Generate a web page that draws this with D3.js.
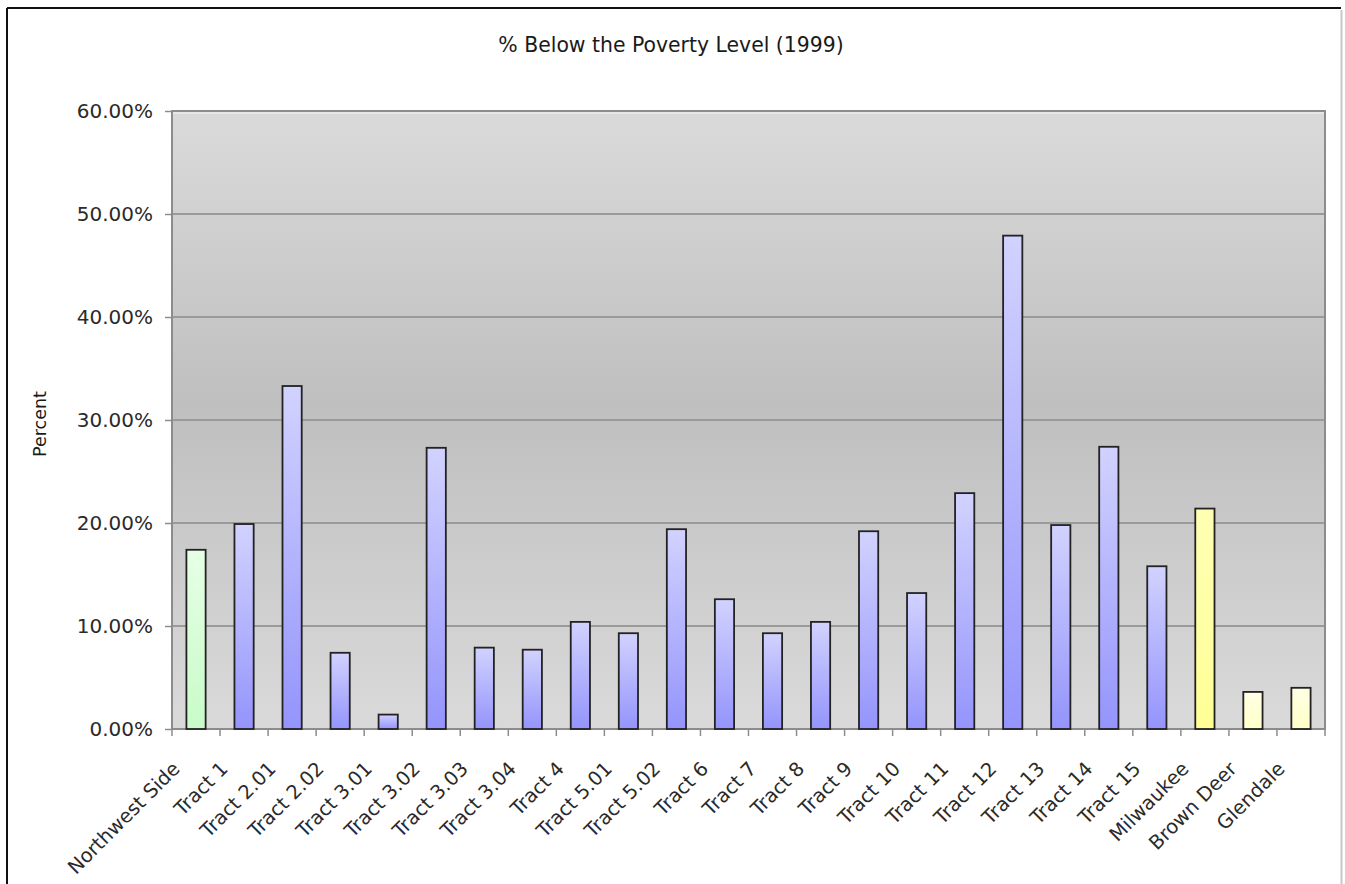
<!DOCTYPE html>
<html>
<head>
<meta charset="utf-8">
<script src="https://cdn.jsdelivr.net/npm/d3@7"></script>
<style>
  html, body { margin: 0; padding: 0; background: #fff; }
  svg { display: block; }
  text { font-family: "DejaVu Sans", Verdana, sans-serif; }
</style>
</head>
<body>
<svg id="chart" width="1345" height="884"></svg>
<script>
// Share of population below the poverty level, 1999
const categories = ["Northwest Side", "Tract 1", "Tract 2.01", "Tract 2.02", "Tract 3.01", "Tract 3.02",
  "Tract 3.03", "Tract 3.04", "Tract 4", "Tract 5.01", "Tract 5.02", "Tract 6", "Tract 7", "Tract 8",
  "Tract 9", "Tract 10", "Tract 11", "Tract 12", "Tract 13", "Tract 14", "Tract 15",
  "Milwaukee", "Brown Deer", "Glendale"];
const values = [17.4, 19.9, 33.3, 7.4, 1.4, 27.3, 7.9, 7.7, 10.4, 9.3, 19.4, 12.6, 9.3, 10.4,
  19.2, 13.2, 22.9, 47.9, 19.8, 27.4, 15.8, 21.4, 3.6, 4.0];
// colour group per bar: area summary, tract, city, neighbouring village
const groups = ["area", "tract", "tract", "tract", "tract", "tract", "tract", "tract", "tract", "tract",
  "tract", "tract", "tract", "tract", "tract", "tract", "tract", "tract", "tract", "tract", "tract",
  "city", "suburb", "suburb"];
const yTicks = [0, 10, 20, 30, 40, 50, 60];
const title = "% Below the Poverty Level (1999)";
const yTitle = "Percent";

const svg = d3.select("#chart");
const plot = { left: 172, top: 111, right: 1325, bottom: 729 };

const x = d3.scaleBand().domain(categories).range([plot.left, plot.right])
  .paddingInner(0.6).paddingOuter(0.3);
const xEdge = d3.scaleLinear().domain([0, categories.length]).range([plot.left, plot.right]);
const y = d3.scaleLinear().domain([0, 60]).range([plot.bottom, plot.top]);

const defs = svg.append("defs");
const bg = defs.append("linearGradient").attr("id", "plotBg")
  .attr("x1", 0).attr("y1", 0).attr("x2", 0).attr("y2", 1);
bg.append("stop").attr("offset", 0).attr("stop-color", "#dadada");
bg.append("stop").attr("offset", 0.48).attr("stop-color", "#bfbfbf");
bg.append("stop").attr("offset", 1).attr("stop-color", "#dadada");

const barColours = {
  area:   ["#e6ffe6", "#c8fbc8"],
  tract:  ["#d2d2ff", "#9494fc"],
  city:   ["#ffffb4", "#ffff96"],
  suburb: ["#ffffe6", "#ffffc8"]
};
Object.entries(barColours).forEach(([k, [top, bottom]]) => {
  const g = defs.append("linearGradient").attr("id", "bar-" + k)
    .attr("x1", 0).attr("y1", 0).attr("x2", 0).attr("y2", 1);
  g.append("stop").attr("offset", 0).attr("stop-color", top);
  g.append("stop").attr("offset", 1).attr("stop-color", bottom);
});

// outer frame
svg.append("line").attr("x1", 7).attr("y1", 8).attr("x2", 1341).attr("y2", 8)
  .attr("stroke", "#111").attr("stroke-width", 2);
svg.append("line").attr("x1", 7).attr("y1", 8).attr("x2", 7).attr("y2", 884)
  .attr("stroke", "#111").attr("stroke-width", 2);
svg.append("line").attr("x1", 1341.5).attr("y1", 10).attr("x2", 1341.5).attr("y2", 884)
  .attr("stroke", "#c8c8c8").attr("stroke-width", 2);

// plot background
svg.append("rect")
  .attr("x", plot.left).attr("y", plot.top)
  .attr("width", plot.right - plot.left).attr("height", plot.bottom - plot.top)
  .attr("fill", "url(#plotBg)");

// gridlines
svg.append("g").selectAll("line").data(yTicks.filter(d => d > 0 && d < 60)).join("line")
  .attr("x1", plot.left).attr("x2", plot.right)
  .attr("y1", d => y(d)).attr("y2", d => y(d))
  .attr("stroke", "#9a9a9a").attr("stroke-width", 1.8);

// plot border with a light inner edge along the top
svg.append("rect")
  .attr("x", plot.left).attr("y", plot.top)
  .attr("width", plot.right - plot.left).attr("height", plot.bottom - plot.top)
  .attr("fill", "none").attr("stroke", "#8c8c8c").attr("stroke-width", 2);
svg.append("line").attr("x1", plot.left + 1).attr("x2", plot.right - 1)
  .attr("y1", plot.top + 2).attr("y2", plot.top + 2)
  .attr("stroke", "#f2f2f2").attr("stroke-width", 1.2);

// bars
svg.append("g").selectAll("rect").data(categories).join("rect")
  .attr("x", d => x(d))
  .attr("y", (d, i) => y(values[i]))
  .attr("width", x.bandwidth())
  .attr("height", (d, i) => y(0) - y(values[i]))
  .attr("fill", (d, i) => "url(#bar-" + groups[i] + ")")
  .attr("stroke", "#222").attr("stroke-width", 1.8);

// y axis
const yAxis = svg.append("g").attr("transform", `translate(${plot.left},0)`)
  .call(d3.axisLeft(y).tickValues(yTicks).tickFormat(d => d.toFixed(2) + "%")
    .tickSize(7).tickPadding(12));
yAxis.select(".domain").remove();
yAxis.selectAll(".tick line").attr("stroke", "#8c8c8c").attr("stroke-width", 1.5);
yAxis.selectAll(".tick text").attr("fill", "#2a2a2a")
  .style("font-size", "20px").style("font-family", "'DejaVu Sans', Verdana, sans-serif");

// x axis: tick marks on category boundaries
svg.append("g").selectAll("line").data(d3.range(categories.length + 1)).join("line")
  .attr("x1", d => xEdge(d)).attr("x2", d => xEdge(d))
  .attr("y1", plot.bottom).attr("y2", plot.bottom + 7)
  .attr("stroke", "#8c8c8c").attr("stroke-width", 1.5);

// x labels, slanted
svg.append("g").selectAll("text").data(categories).join("text")
  .attr("transform", d => `translate(${x(d) + x.bandwidth() / 2 - 15},${plot.bottom + 41}) rotate(-45)`)
  .attr("text-anchor", "end")
  .attr("fill", "#2a2a2a")
  .style("font-size", "19.5px")
  .text(d => d);

// titles
svg.append("text").attr("x", 671).attr("y", 52).attr("text-anchor", "middle")
  .attr("fill", "#1a1a1a").style("font-size", "20.4px").text(title);
svg.append("text").attr("transform", "translate(46,424) rotate(-90)")
  .attr("text-anchor", "middle").attr("fill", "#1a1a1a").style("font-size", "17.5px").text(yTitle);
</script>
</body>
</html>
